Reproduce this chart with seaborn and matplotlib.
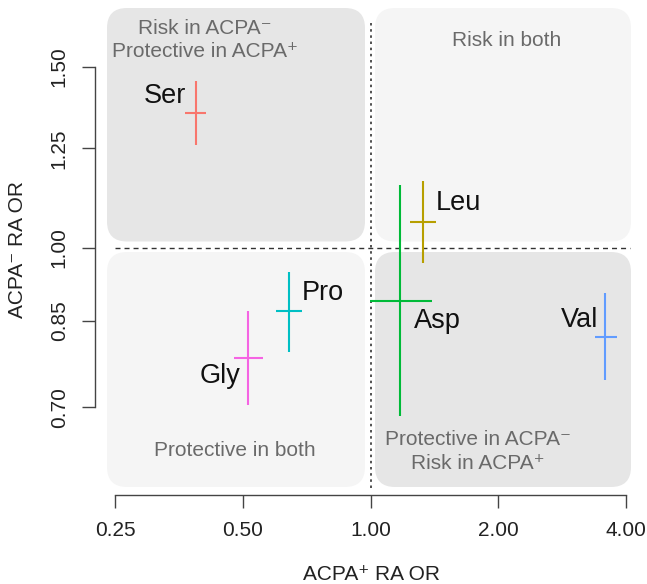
import matplotlib.pyplot as plt
import seaborn as sns
from matplotlib.patches import FancyBboxPatch
from matplotlib.transforms import IdentityTransform
from matplotlib.ticker import NullLocator

# odds ratios (centre, lower, upper)
amino = ['Ser', 'Leu', 'Asp', 'Pro', 'Gly', 'Val']
or_pos = [0.388, 1.329, 1.175, 0.641, 0.515, 3.58]
pos_lo = [0.365, 1.241, 0.995, 0.599, 0.476, 3.38]
pos_hi = [0.409, 1.424, 1.398, 0.688, 0.559, 3.81]
or_neg = [1.352, 1.061, 0.888, 0.869, 0.782, 0.820]
neg_lo = [1.259, 0.968, 0.686, 0.793, 0.704, 0.744]
neg_hi = [1.453, 1.162, 1.151, 0.948, 0.869, 0.905]
colors = ['#F8766D', '#B79F00', '#00BA38', '#00BFC4', '#F564E3', '#619CFF']

x_ticks = [0.25, 0.5, 1.0, 2.0, 4.0]
x_labels = ['0.25', '0.50', '1.00', '2.00', '4.00']
y_ticks = [0.70, 0.85, 1.00, 1.25, 1.50]
y_labels = ['0.70', '0.85', '1.00', '1.25', '1.50']

sns.set_style('white')
plt.rcParams['font.family'] = ['Liberation Sans', 'DejaVu Sans']

W, H = 647, 584
fig = plt.figure(figsize=(W / 100, H / 100), dpi=100)
ax = fig.add_axes([95 / W, (H - 494.5) / H, (W - 95) / W, 494.5 / H])
ax.set_facecolor('none')
ax.set_xscale('log', base=2)
ax.set_yscale('log')
ax.set_xlim(0.2240, 4.486)
ax.set_ylim(0.5761, 1.7416)

# quadrant backgrounds (pixel boxes: left, top, right, bottom)
boxes = [((107, 8, 365, 241.5), '#e6e6e6'),
         ((375, 8, 631, 241.5), '#f5f5f5'),
         ((107, 252, 365, 487), '#f5f5f5'),
         ((375, 252, 631, 487), '#e6e6e6')]
for (l, t, r, b), c in boxes:
    p = FancyBboxPatch((l, H - b), r - l, b - t, boxstyle='round,pad=0,rounding_size=20',
                       transform=IdentityTransform(), facecolor=c, edgecolor='none', zorder=0)
    fig.add_artist(p)

ax.hlines(1.0, 0.25, 4.1, colors='#333333', linestyles=(0, (3.6, 2.9)), lw=1, zorder=1)
ax.vlines(1.0, 0.585, 1.665, colors='#333333', linestyles=(0, (1.5, 2.2)), lw=1.2, zorder=1)

# crosses
for i in range(len(amino)):
    ax.errorbar(or_pos[i], or_neg[i],
                xerr=[[or_pos[i] - pos_lo[i]], [pos_hi[i] - or_pos[i]]],
                yerr=[[or_neg[i] - neg_lo[i]], [neg_hi[i] - or_neg[i]]],
                fmt='none', ecolor=colors[i], elinewidth=1.5, capsize=0, zorder=3)

offsets = {'Ser': (-31, 10), 'Leu': (35, 12), 'Asp': (37, -27),
           'Pro': (34, 11), 'Gly': (-28, -25), 'Val': (-26, 10)}
for i, name in enumerate(amino):
    ax.annotate(name, (or_pos[i], or_neg[i]), xytext=offsets[name], textcoords='offset pixels',
                ha='center', va='baseline', fontsize=19.5, color='#111111', zorder=4)

# quadrant captions
def fxy(px, py):
    return px / W, 1 - py / H

cap = dict(ha='center', va='center', fontsize=15, color='#6a6a6a', linespacing=1.3)
fig.text(*fxy(205, 40), 'Risk in ACPA\u207b\nProtective in ACPA\u207a', **cap)
fig.text(*fxy(507, 41), 'Risk in both', **cap)
fig.text(*fxy(235, 450), 'Protective in both', **cap)
fig.text(*fxy(478, 451.5), 'Protective in ACPA\u207b\nRisk in ACPA\u207a', **cap)

# axes in base-R style
for s in ['top', 'right']:
    ax.spines[s].set_visible(False)
ax.spines['left'].set_bounds(0.70, 1.50)
ax.spines['bottom'].set_bounds(0.25, 4.0)
for s in ['left', 'bottom']:
    ax.spines[s].set_color('#444444')
    ax.spines[s].set_linewidth(1)

ax.set_xticks(x_ticks)
ax.set_xticklabels(x_labels)
ax.set_yticks(y_ticks)
ax.set_yticklabels(y_labels, rotation=90, va='center')
ax.xaxis.set_minor_locator(NullLocator())
ax.yaxis.set_minor_locator(NullLocator())
ax.tick_params(axis='both', length=9.4, width=1, color='#444444', labelsize=15,
               labelcolor='#222222', direction='out')
ax.tick_params(axis='x', pad=10, bottom=True)
ax.tick_params(axis='y', pad=9.5, left=True)

fig.text(*fxy(371, 575), 'ACPA\u207a RA OR', ha='center', va='center', fontsize=15, color='#222222')
fig.text(*fxy(18, 250), 'ACPA\u207b RA OR', ha='center', va='center', rotation=90,
         fontsize=15, color='#222222')

plt.savefig('out.png', dpi=100)
